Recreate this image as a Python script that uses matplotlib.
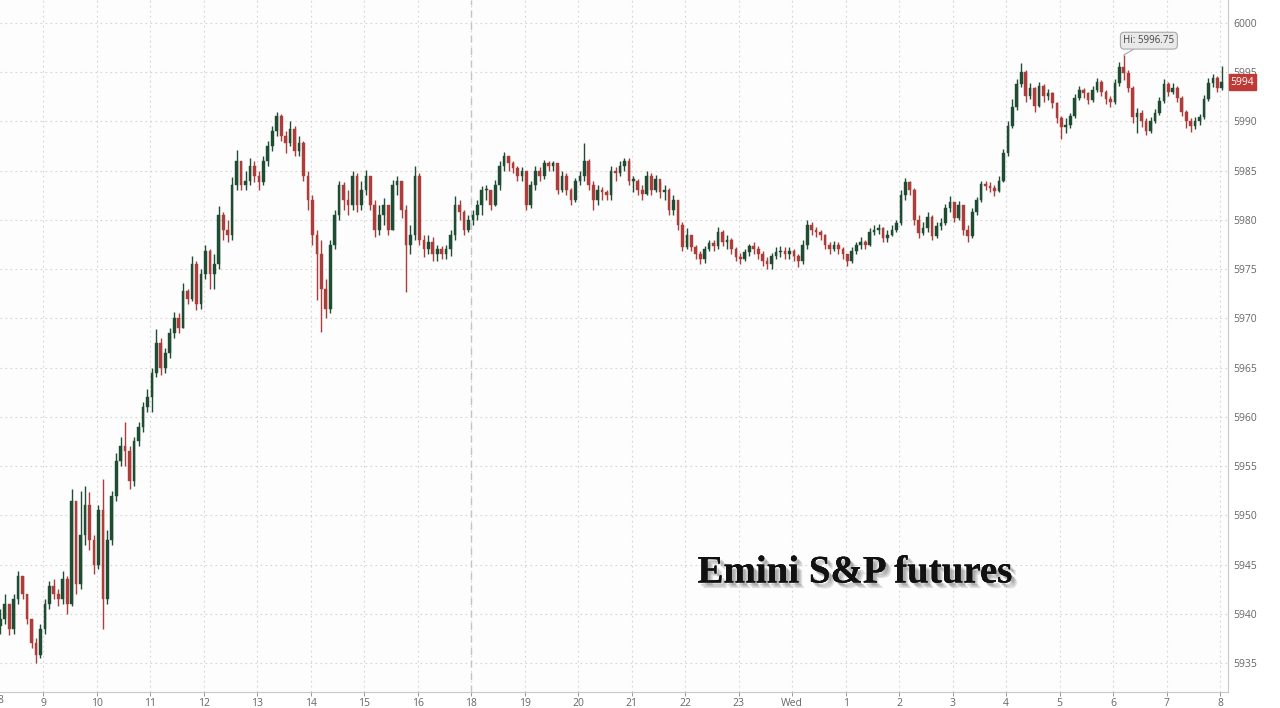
import matplotlib.pyplot as plt
import matplotlib.patheffects as pe
import numpy as np

# 5-minute candles, first one at ~8:12
close = [
    5939.5, 5941.0, 5938.5, 5941.5, 5943.8, 5942.0, 5939.5, 5937.0, 5935.8, 5938.5,
    5941.0, 5942.8, 5942.0, 5941.5, 5943.5, 5941.0, 5951.5, 5943.0, 5948.0, 5951.0,
    5947.5, 5945.0, 5950.5, 5941.5, 5947.5, 5952.0, 5955.5, 5957.0, 5956.5, 5953.5,
    5957.5, 5959.0, 5961.0, 5962.0, 5964.5, 5967.5, 5965.0, 5966.5, 5968.5, 5970.0,
    5969.0, 5972.8, 5972.0, 5975.5, 5971.5, 5974.5, 5976.8, 5974.5, 5975.5, 5980.5,
    5979.0, 5978.5, 5983.5, 5986.0, 5983.5, 5984.0, 5985.5, 5984.5, 5983.8, 5986.0,
    5987.5, 5989.0, 5990.5, 5988.5, 5987.8, 5989.2, 5987.0, 5987.8, 5984.5, 5982.0,
    5978.5, 5976.5, 5973.0, 5971.0, 5977.5, 5980.5, 5983.5, 5982.0, 5981.5, 5984.5,
    5981.5, 5983.0, 5984.5, 5981.5, 5979.0, 5980.5, 5981.5, 5979.0, 5983.5, 5984.0,
    5981.0, 5977.5, 5978.5, 5984.5, 5978.0, 5977.0, 5977.8, 5976.5, 5977.0, 5976.5,
    5977.0, 5978.5, 5981.5, 5980.8, 5979.0, 5980.0, 5980.5, 5981.5, 5983.0, 5983.0,
    5981.5, 5983.5, 5985.5, 5986.5, 5985.8, 5985.3, 5984.5, 5985.0, 5981.5, 5983.5,
    5985.0, 5984.5, 5985.8, 5985.5, 5985.8, 5983.0, 5984.5, 5983.0, 5982.0, 5984.0,
    5984.5, 5986.0, 5983.5, 5982.0, 5983.0, 5982.8, 5982.5, 5985.0, 5984.8, 5985.5,
    5986.0, 5984.0, 5984.0, 5983.0, 5982.6, 5984.5, 5983.0, 5984.2, 5982.8, 5983.0,
    5981.0, 5982.0, 5979.5, 5977.2, 5978.5, 5977.2, 5976.5, 5976.0, 5977.0, 5977.7,
    5977.3, 5978.8, 5977.8, 5978.0, 5977.0, 5976.2, 5976.0, 5976.7, 5977.3, 5977.0,
    5976.5, 5975.8, 5975.5, 5976.3, 5976.7, 5976.8, 5976.5, 5976.8, 5976.3, 5975.8,
    5977.5, 5979.5, 5979.0, 5978.8, 5978.5, 5977.5, 5977.0, 5977.5, 5977.0, 5976.5,
    5975.8, 5976.8, 5977.5, 5977.8, 5977.5, 5978.8, 5979.0, 5979.2, 5978.2, 5978.5,
    5979.0, 5979.7, 5982.5, 5983.8, 5983.0, 5980.0, 5978.7, 5979.2, 5980.3, 5978.4,
    5979.4, 5979.7, 5981.2, 5981.8, 5980.2, 5981.5, 5979.0, 5978.4, 5980.8, 5982.0,
    5983.6, 5983.4, 5983.2, 5982.9, 5984.0, 5986.8, 5989.5, 5991.5, 5993.8, 5995.0,
    5992.6, 5993.4, 5991.6, 5993.6, 5992.6, 5992.9, 5991.9, 5990.3, 5989.4, 5989.6,
    5990.5, 5992.4, 5993.2, 5992.9, 5992.2, 5993.2, 5994.0, 5993.0, 5992.3, 5992.0,
    5993.9, 5995.5, 5994.9, 5993.4, 5990.4, 5990.9, 5990.0, 5989.0, 5990.0, 5990.9,
    5992.1, 5993.8, 5993.0, 5993.4, 5992.4, 5991.0, 5990.0, 5989.5, 5990.0, 5990.4,
    5992.3, 5993.9, 5994.4, 5993.4, 5994.0,
]
high = [
    5940.5, 5942.0, 5940.5, 5942.0, 5944.3, 5943.8, 5942.0, 5939.5, 5937.5, 5939.0,
    5941.5, 5943.3, 5943.5, 5942.5, 5944.3, 5943.8, 5952.7, 5951.5, 5952.5, 5953.0,
    5952.4, 5948.0, 5951.0, 5953.7, 5948.5, 5952.5, 5956.3, 5958.0, 5959.5, 5957.0,
    5958.0, 5959.5, 5961.5, 5962.8, 5965.0, 5968.9, 5968.0, 5967.0, 5969.0, 5970.6,
    5970.5, 5973.6, 5973.0, 5976.3, 5975.8, 5975.0, 5977.5, 5977.0, 5976.5, 5981.4,
    5980.8, 5980.0, 5984.4, 5987.1, 5986.0, 5985.0, 5986.3, 5986.0, 5985.0, 5986.5,
    5988.0, 5989.5, 5991.0, 5990.8, 5989.0, 5990.0, 5989.5, 5988.5, 5988.0, 5985.0,
    5982.5, 5979.0, 5978.0, 5974.0, 5978.0, 5981.0, 5984.0, 5983.8, 5983.0, 5985.0,
    5984.8, 5984.0, 5985.1, 5984.5, 5982.0, 5981.5, 5982.2, 5981.5, 5984.1, 5984.5,
    5984.0, 5981.5, 5979.5, 5985.5, 5984.8, 5978.5, 5978.5, 5978.3, 5977.5, 5977.3,
    5977.5, 5979.0, 5982.4, 5982.0, 5981.0, 5980.5, 5981.0, 5982.0, 5983.4, 5983.5,
    5983.0, 5984.1, 5986.0, 5986.9, 5986.5, 5986.0, 5985.5, 5985.4, 5985.0, 5984.0,
    5985.5, 5985.4, 5986.1, 5986.0, 5986.0, 5985.5, 5985.0, 5984.8, 5983.2, 5984.3,
    5985.0, 5987.8, 5986.2, 5984.0, 5983.5, 5983.3, 5983.0, 5985.5, 5985.4, 5986.0,
    5986.3, 5986.3, 5984.5, 5984.2, 5983.5, 5985.0, 5984.8, 5984.6, 5984.0, 5983.5,
    5983.2, 5982.5, 5982.0, 5979.8, 5979.2, 5978.5, 5977.5, 5976.8, 5977.3, 5978.0,
    5978.0, 5979.3, 5979.0, 5978.5, 5978.2, 5977.2, 5976.6, 5977.0, 5977.6, 5977.8,
    5977.3, 5976.8, 5976.2, 5976.6, 5977.2, 5977.3, 5977.2, 5977.2, 5977.0, 5976.5,
    5978.0, 5980.0, 5979.8, 5979.3, 5979.0, 5978.6, 5977.8, 5977.9, 5977.8, 5977.2,
    5976.5, 5977.2, 5977.8, 5978.3, 5978.0, 5979.2, 5979.5, 5979.6, 5979.3, 5979.0,
    5979.5, 5980.0, 5983.0, 5984.3, 5984.0, 5983.2, 5980.5, 5979.8, 5980.8, 5980.5,
    5979.8, 5980.2, 5981.6, 5982.4, 5981.8, 5981.9, 5981.5, 5979.5, 5981.2, 5982.3,
    5983.9, 5984.0, 5983.8, 5983.5, 5984.5, 5987.2, 5990.0, 5992.3, 5994.3, 5995.9,
    5995.2, 5993.9, 5993.5, 5994.0, 5993.8, 5993.3, 5993.0, 5992.0, 5990.5, 5990.3,
    5990.9, 5992.8, 5993.6, 5993.4, 5993.0, 5993.6, 5994.4, 5994.2, 5993.2, 5992.6,
    5994.3, 5996.0, 5996.75, 5995.2, 5993.6, 5991.4, 5991.2, 5990.3, 5990.4, 5991.3,
    5992.5, 5994.3, 5994.0, 5993.9, 5993.6, 5992.6, 5991.2, 5990.3, 5990.4, 5990.8,
    5992.7, 5994.4, 5994.8, 5994.6, 5995.6,
]
low = [
    5938.0, 5939.0, 5937.8, 5938.0, 5941.0, 5941.5, 5939.0, 5936.5, 5935.0, 5935.5,
    5938.0, 5940.5, 5941.5, 5940.8, 5941.0, 5940.0, 5940.8, 5942.0, 5942.5, 5947.0,
    5946.5, 5944.0, 5944.5, 5938.5, 5941.0, 5947.0, 5951.5, 5955.0, 5955.0, 5952.7,
    5953.0, 5957.0, 5958.5, 5960.5, 5960.5, 5964.0, 5964.3, 5964.5, 5966.0, 5968.0,
    5968.5, 5969.0, 5971.5, 5971.8, 5970.9, 5971.0, 5974.0, 5973.0, 5973.0, 5975.0,
    5978.0, 5977.8, 5978.0, 5983.0, 5983.0, 5983.0, 5983.5, 5983.8, 5983.0, 5983.5,
    5985.5, 5987.0, 5988.5, 5988.0, 5986.8, 5987.5, 5986.5, 5986.5, 5984.0, 5981.0,
    5977.5, 5971.9, 5968.6, 5970.0, 5970.5, 5977.0, 5980.0, 5981.0, 5980.5, 5981.0,
    5980.8, 5981.0, 5982.5, 5981.0, 5978.3, 5978.5, 5979.5, 5978.5, 5979.0, 5982.5,
    5980.2, 5972.7, 5976.5, 5978.0, 5977.5, 5976.2, 5976.5, 5975.8, 5975.8, 5976.0,
    5976.0, 5976.3, 5978.0, 5980.0, 5978.5, 5978.8, 5979.5, 5980.0, 5980.5, 5982.0,
    5981.0, 5981.4, 5983.0, 5985.0, 5985.0, 5984.8, 5984.0, 5984.0, 5981.0, 5981.2,
    5983.0, 5984.0, 5984.2, 5985.0, 5985.0, 5982.6, 5982.8, 5982.5, 5981.5, 5981.8,
    5983.5, 5984.0, 5983.0, 5981.0, 5981.5, 5982.0, 5982.0, 5982.0, 5984.0, 5984.5,
    5985.0, 5983.5, 5982.8, 5982.5, 5982.0, 5982.5, 5982.5, 5982.8, 5982.2, 5982.0,
    5980.5, 5980.5, 5979.0, 5976.8, 5977.0, 5976.8, 5976.0, 5975.5, 5975.6, 5976.8,
    5976.8, 5977.0, 5977.3, 5977.0, 5976.5, 5975.8, 5975.5, 5975.8, 5976.3, 5976.5,
    5976.0, 5975.3, 5975.0, 5975.0, 5976.0, 5976.2, 5976.0, 5976.0, 5975.8, 5975.2,
    5975.5, 5977.0, 5978.5, 5978.3, 5978.0, 5977.0, 5976.5, 5976.8, 5976.5, 5976.0,
    5975.3, 5975.6, 5976.5, 5977.0, 5977.0, 5977.3, 5978.5, 5978.6, 5977.8, 5977.8,
    5978.4, 5978.8, 5979.5, 5982.0, 5982.5, 5979.5, 5978.2, 5978.5, 5978.8, 5978.0,
    5978.2, 5979.0, 5979.5, 5980.8, 5979.8, 5980.0, 5978.5, 5977.8, 5978.2, 5980.5,
    5981.8, 5983.0, 5982.8, 5982.4, 5982.8, 5983.8, 5986.5, 5989.3, 5991.2, 5993.5,
    5992.0, 5992.3, 5991.0, 5991.5, 5992.0, 5992.2, 5991.4, 5989.8, 5988.2, 5988.8,
    5989.3, 5990.3, 5992.2, 5992.4, 5991.8, 5992.0, 5993.0, 5992.6, 5991.8, 5991.5,
    5991.8, 5993.6, 5994.2, 5993.0, 5989.8, 5988.8, 5989.4, 5988.6, 5988.8, 5989.8,
    5990.7, 5991.9, 5992.6, 5992.8, 5992.0, 5990.5, 5989.3, 5988.9, 5989.2, 5989.6,
    5990.2, 5992.1, 5993.5, 5993.0, 5993.2,
]
first_open = 5938.8
hour_labels = ['8', '9', '10', '11', '12', '13', '14', '15', '16', '18', '19', '20',
               '21', '22', '23', 'Wed', '1', '2', '3', '4', '5', '6', '7', '8']
y_ticks = list(range(5935, 6001, 5))
hi_value = 5996.75
last_price = 5994

close = np.array(close)
high = np.array(high)
low = np.array(low)
opn = np.concatenate([[first_open], close[:-1]])
# x in "hour slots" (8 -> 0, 9 -> 1, ... 8 -> 23); one candle = 5 minutes
x = 0.2 + np.arange(len(close)) / 12.0

up_color = '#1f4c33'
down_color = '#ad3d3b'
colors = np.where(close >= opn, up_color, down_color)

fig = plt.figure(figsize=(12.8, 7.08), dpi=100)
fig.patch.set_facecolor('white')
ax = fig.add_axes([0, 0.0226, 0.9591, 0.9774])
ax.set_facecolor('#fdfdfd')

# grid
for i in range(len(hour_labels)):
    ax.axvline(i, color='#d4d4d4', lw=0.8, ls=(0, (1.5, 3)), zorder=0)
for v in y_ticks:
    ax.axhline(v, color='#d4d4d4', lw=0.8, ls=(0, (1.5, 3)), zorder=0)
# session break
ax.axvline(9, color='#c4c4c4', lw=1.0, ls=(0, (5, 4)), zorder=0)

# candles
ax.vlines(x, low, high, colors=colors, lw=1.0, zorder=2)
body = np.abs(close - opn)
body = np.where(body < 0.12, 0.12, body)
ax.bar(x, body, bottom=np.minimum(opn, close), width=0.05, color=colors,
       edgecolor=colors, lw=0.3, zorder=3)

ax.set_xticks(range(len(hour_labels)))
ax.set_xticklabels(hour_labels)
ax.set_yticks(y_ticks)
ax.set_xlim(0.194, 23.142)
ax.set_ylim(5932.06, 6002.33)
ax.yaxis.tick_right()
ax.tick_params(axis='both', colors='#888888', labelcolor='#666666', labelsize=7.5,
               length=3, width=0.6)
ax.tick_params(axis='y', length=0, pad=4)
ax.tick_params(axis='x', pad=1.5)
for lab in ax.get_xticklabels() + ax.get_yticklabels():
    lab.set_fontfamily('Open Sans')

for s in ['top', 'left']:
    ax.spines[s].set_visible(False)
for s in ['bottom', 'right']:
    ax.spines[s].set_color('#c8c8c8')
    ax.spines[s].set_linewidth(0.8)

# partly hidden first label at left edge
ax.text(0.0, -0.005, '8', transform=ax.transAxes, ha='center', va='top',
        fontsize=7.5, color='#666666', family='Open Sans', clip_on=False)

# high marker
hi_idx = int(np.argmax(high))
ax.annotate('Hi: 5996.75', xy=(x[hi_idx], hi_value), xytext=(x[hi_idx] + 0.47, 5998.2),
            ha='center', va='center', fontsize=7, color='#444444', family='Open Sans',
            bbox=dict(boxstyle='round,pad=0.3,rounding_size=0.4', fc='#e9e9e9',
                      ec='#a8a8a8', lw=0.8),
            arrowprops=dict(arrowstyle='-', color='#a8a8a8', lw=0.8,
                            shrinkA=0, shrinkB=0),
            zorder=5)

# last price tag
ax.text(1.0025, last_price, str(last_price), transform=ax.get_yaxis_transform(),
        ha='left', va='center', fontsize=7.5, color='white', family='Open Sans',
        bbox=dict(boxstyle='square,pad=0.2', fc='#bf3a36', ec='#bf3a36'),
        clip_on=False, zorder=6)

# title text
ax.text(0.6964, 0.172, 'Emini S&P futures', transform=ax.transAxes,
        ha='center', va='center', fontsize=28, fontweight='bold',
        family='Liberation Serif', color='#111111',
        path_effects=[pe.withSimplePatchShadow(offset=(4, -4), shadow_rgbFace='#888888',
                                               alpha=0.25),
                      pe.withSimplePatchShadow(offset=(3, -3), shadow_rgbFace='#888888',
                                               alpha=0.3),
                      pe.withSimplePatchShadow(offset=(2, -2), shadow_rgbFace='#777777',
                                               alpha=0.3)])

fig.savefig('out.png', dpi=100, facecolor='white')
